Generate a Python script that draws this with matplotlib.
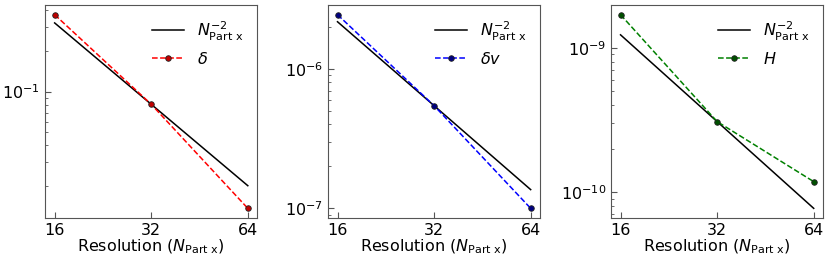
import numpy as np
import matplotlib
matplotlib.use("Agg")
import matplotlib.pyplot as plt

# resolutions (particles per axis)
n_part = [16, 32, 64]

# errors
err_delta = [0.371, 0.0806, 0.0137]
err_dv = [2.45e-6, 5.45e-7, 1.0e-7]
err_h = [1.70e-9, 3.08e-10, 1.18e-10]

labels = [r"$\delta$", r"$\delta v$", r"$H$"]
line_colors = ["red", "blue", "green"]
marker_colors = ["#c00000", "#000080", "#005000"]

fig = plt.figure(figsize=(8.3, 2.63), dpi=100)
lefts = [0.0542, 0.395, 0.736]
width = 0.256
bottom, height = 0.171, 0.810

fs = 11.5
for i, err in enumerate([err_delta, err_dv, err_h]):
    ax = fig.add_axes([lefts[i], bottom, width, height])
    n = np.array(n_part, dtype=float)
    # N^-2 reference, anchored on the middle point
    ref = err[1] * (n / n[1]) ** -2
    ax.loglog(n, ref, color="black", lw=1.1, label=r"$N_{\rm Part\ x}^{-2}$")
    ax.loglog(n, err, ls="--", color=line_colors[i], lw=1.1, marker="o", ms=4,
              mfc=marker_colors[i], mec="#202020", mew=0.6, label=labels[i])
    ax.set_xticks(n_part)
    ax.set_xticklabels([str(v) for v in n_part])
    ax.xaxis.set_minor_locator(matplotlib.ticker.NullLocator())
    ax.tick_params(which="both", direction="in", labelsize=fs, colors="#555555",
                   labelcolor="black")
    ax.tick_params(which="major", length=4)
    ax.tick_params(which="minor", length=2)
    for sp in ax.spines.values():
        sp.set_color("#555555")
    ax.set_xlabel(r"Resolution ($N_{\rm Part\ x}$)", fontsize=fs, labelpad=0)
    ax.legend(loc="upper right", frameon=False, fontsize=fs, numpoints=1)

fig.savefig("out.png", dpi=100)
